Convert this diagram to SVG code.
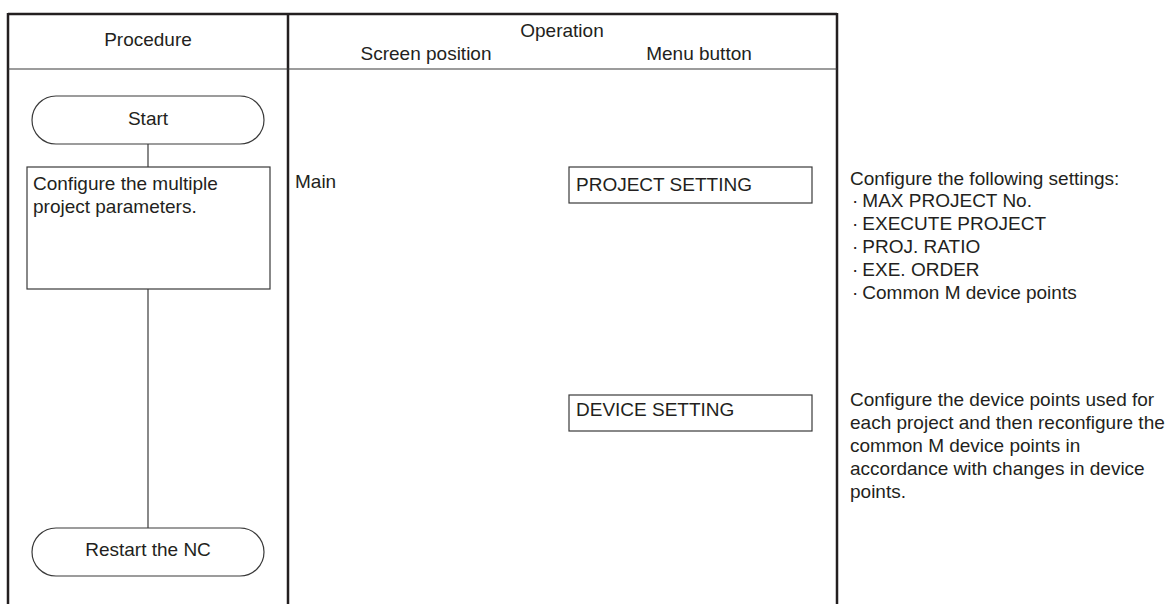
<svg xmlns="http://www.w3.org/2000/svg" width="1170" height="604" viewBox="0 0 1170 604">
<style>
text{font-family:"Liberation Sans",Arial,sans-serif;font-size:19px;fill:#231f20}
.c{text-anchor:middle}
.frame{stroke:#231f20;stroke-width:2.5;fill:none}
.thin{stroke:#3a3a3a;stroke-width:1.2;fill:none}
.node{stroke:#3a3a3a;stroke-width:1.2;fill:#fff}
</style>
<rect width="1170" height="604" fill="#fff"/>
<g id="table">
<line class="frame" x1="8" y1="14" x2="837" y2="14"/>
<line class="frame" x1="8" y1="13" x2="8" y2="604"/>
<line class="frame" x1="288" y1="13" x2="288" y2="604"/>
<line class="frame" x1="837" y1="13" x2="837" y2="604"/>
<line class="thin" x1="8" y1="69" x2="837" y2="69"/>
<text class="c" x="148" y="46">Procedure</text>
<text class="c" x="562" y="37">Operation</text>
<text class="c" x="426" y="60">Screen position</text>
<text class="c" x="699" y="60">Menu button</text>
<text x="295" y="188">Main</text>
</g>
<g id="connectors">
<line class="thin" x1="148" y1="144" x2="148" y2="167"/>
<line class="thin" x1="148" y1="289" x2="148" y2="528"/>
</g>
<g id="start">
<rect class="node" x="32" y="96" width="232" height="48" rx="24" ry="24"/>
<text class="c" x="148" y="124.5">Start</text>
</g>
<g id="configure">
<rect class="node" x="27" y="167" width="243" height="122"/>
<text x="33" y="190">Configure the multiple</text>
<text x="33" y="213">project parameters.</text>
</g>
<g id="restart">
<rect class="node" x="32" y="528" width="232" height="48" rx="24" ry="24"/>
<text class="c" x="148" y="556">Restart the NC</text>
</g>
<g id="project-setting">
<rect class="node" x="569" y="167" width="243" height="36"/>
<text x="576" y="191">PROJECT SETTING</text>
</g>
<g id="device-setting">
<rect class="node" x="569" y="395" width="243" height="36"/>
<text x="576" y="416">DEVICE SETTING</text>
</g>
<g id="note-project">
<text x="850" y="185">Configure the following settings:</text>
<text x="852" y="207">·<tspan dx="4">MAX PROJECT No.</tspan></text>
<text x="852" y="230">·<tspan dx="4">EXECUTE PROJECT</tspan></text>
<text x="852" y="253">·<tspan dx="4">PROJ. RATIO</tspan></text>
<text x="852" y="276">·<tspan dx="4">EXE. ORDER</tspan></text>
<text x="852" y="299">·<tspan dx="4">Common M device points</tspan></text>
</g>
<g id="note-device">
<text x="850" y="406">Configure the device points used for</text>
<text x="850" y="429">each project and then reconfigure the</text>
<text x="850" y="452">common M device points in</text>
<text x="850" y="475">accordance with changes in device</text>
<text x="850" y="498">points.</text>
</g>
</svg>
